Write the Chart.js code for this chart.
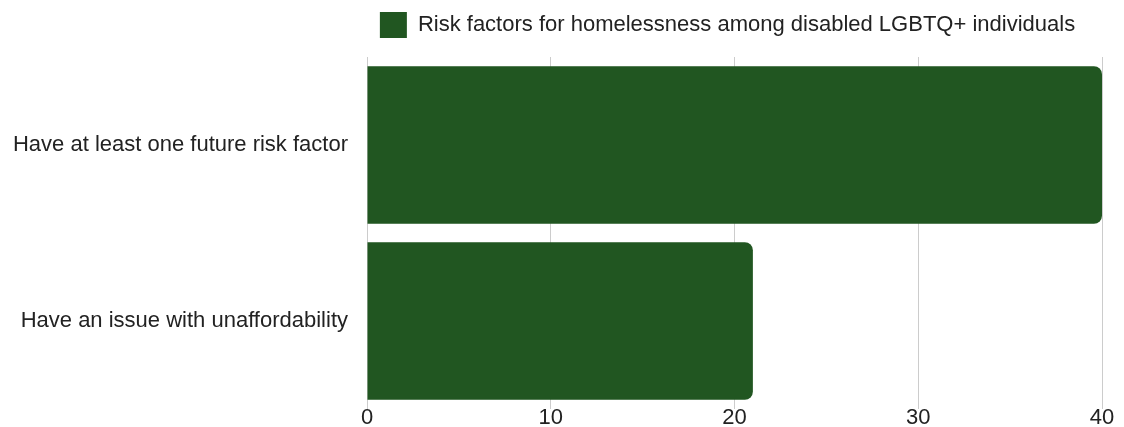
<!DOCTYPE html>
<html>
<head>
<meta charset="utf-8">
<script src="https://cdn.jsdelivr.net/npm/chart.js@4"></script>
<style>
    html, body { margin: 0; padding: 0; background: #fff; }
    #chartContainer { width: 1124px; height: 427px; }
</style>
</head>
<body>
<div id="chartContainer"><canvas id="riskChart"></canvas></div>
<script>
const categories = ['Have at least one future risk factor', 'Have an issue with unaffordability'];
const seriesLabel = 'Risk factors for homelessness among disabled LGBTQ+ individuals';
const seriesValues = [40, 21];
const xTicks = [0, 10, 20, 30, 40];

// center the legend over the plot area instead of the whole canvas
const legendShift = {
    id: 'legendShift',
    afterLayout(chart) {
        const lg = chart.legend;
        const a = chart.chartArea;
        const dx = (a.left + a.right) / 2 - (lg.left + lg.right) / 2 - 7;
        lg.left += dx;
        lg.right += dx;
    }
};

Chart.defaults.font.family = 'Arial, "Liberation Sans", sans-serif';
Chart.defaults.color = '#222';

const ctx = document.getElementById('riskChart').getContext('2d');
new Chart(ctx, {
    type: 'bar',
    data: {
        labels: categories,
        datasets: [{
            label: seriesLabel,
            data: seriesValues,
            backgroundColor: '#215621',
            borderRadius: 8,
            categoryPercentage: 1,
            barPercentage: 0.895
        }]
    },
    options: {
        indexAxis: 'y',
        responsive: true,
        maintainAspectRatio: false,
        animation: false,
        layout: { padding: { top: -3, right: 22, left: 0, bottom: 0 } },
        scales: {
            x: {
                min: 0,
                max: 40,
                afterBuildTicks: scale => { scale.ticks = xTicks.map(v => ({ value: v })); },
                grid: { color: '#cccccc', drawTicks: false },
                border: { display: false },
                ticks: { padding: -2, font: { size: 22, lineHeight: 1 } }
            },
            // empty top axis, only used as a spacer under the legend
            xTop: {
                type: 'linear',
                position: 'top',
                min: 0,
                max: 40,
                grid: { color: 'rgba(0,0,0,0)', drawTicks: true, tickLength: 9 },
                border: { display: false },
                ticks: { display: false }
            },
            y: {
                grid: { display: false, drawTicks: false },
                border: { display: false },
                ticks: { padding: 19, font: { size: 22 } },
                afterFit: scale => {
                    scale.width = 367;
                    scale.paddingTop = 0;
                    scale.paddingBottom = 0;
                }
            }
        },
        plugins: {
            legend: {
                labels: {
                    boxWidth: 27,
                    boxHeight: 26,
                    padding: 15,
                    font: { size: 22 }
                }
            },
            tooltip: { enabled: false }
        }
    },
    plugins: [legendShift]
});
</script>
</body>
</html>
